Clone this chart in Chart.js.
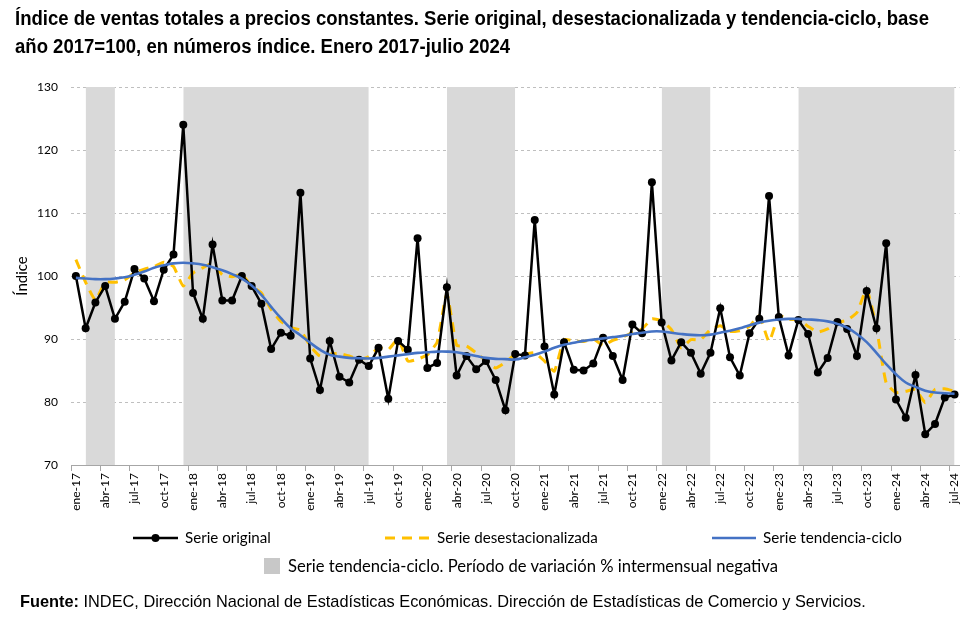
<!DOCTYPE html>
<html>
<head>
<meta charset="utf-8">
<script src="https://cdn.jsdelivr.net/npm/chart.js@4.4.1/dist/chart.umd.min.js"></script>
<style>
  html, body { margin:0; padding:0; background:#fff; }
  body { width:971px; height:624px; position:relative; overflow:hidden; font-family:"Liberation Sans", Arial, sans-serif; }
  .tl { position:absolute; left:15px; font-family:"Liberation Sans", Arial, sans-serif; font-weight:bold; font-size:20px; line-height:24px; color:#000; white-space:nowrap; transform-origin:0 50%; }
  #wrap { position:absolute; left:0; top:0; width:971px; height:528px; }
  .lg { position:absolute; font-family:Lato, "Open Sans", sans-serif; font-size:15px; color:#000; white-space:nowrap; line-height:18px; height:18px; }
  #footer { position:absolute; left:20px; top:591px; font-size:16px; line-height:20px; color:#000; white-space:nowrap; }
  svg.mk { position:absolute; left:0; top:0; }
</style>
</head>
<body>
<div id="wrap"><canvas id="c" width="971" height="528"></canvas></div>
<div class="tl" id="t1" style="top:6px;">Índice de ventas totales a precios constantes. Serie original, desestacionalizada y tendencia-ciclo, base</div>
<div class="tl" id="t2" style="top:34px;">año 2017=100, en números índice. Enero 2017-julio 2024</div>

<svg class="mk" width="971" height="624">
  <line x1="133" y1="538" x2="178" y2="538" stroke="#000" stroke-width="2.5"/>
  <circle cx="155.5" cy="538" r="4" fill="#000"/>
  <line x1="385" y1="538" x2="430" y2="538" stroke="#FFC000" stroke-width="3" stroke-dasharray="10,7"/>
  <line x1="712" y1="538" x2="756" y2="538" stroke="#4472C4" stroke-width="2.5"/>
  <rect x="264" y="558" width="16" height="16" fill="#C8C8C8"/>
</svg>
<div class="lg" id="l1" style="left:185px; top:528px;">Serie original</div>
<div class="lg" id="l2" style="left:437px; top:528px;">Serie desestacionalizada</div>
<div class="lg" id="l3" style="left:763px; top:528px;">Serie tendencia-ciclo</div>
<div class="lg" id="l4" style="left:288px; top:557px;">Serie tendencia-ciclo. Período de variación % intermensual negativa</div>
<div id="footer"><b>Fuente:</b> INDEC, Dirección Nacional de Estadísticas Económicas. Dirección de Estadísticas de Comercio y Servicios.</div>

<script>
// ---- Data ----
const monthNames = ['ene','feb','mar','abr','may','jun','jul','ago','sep','oct','nov','dic'];
const years = ['17','18','19','20','21','22','23','24'];
const lastMonthIndex2024 = 6; // julio 2024

const serieOriginal = [
  100.0, 91.7, 95.8, 98.4, 93.2, 95.9, 101.1, 99.6, 96.0, 101.0, 103.4, 124.0,
  97.3, 93.2, 105.0, 96.1, 96.1, 100.0, 98.4, 95.6, 88.4, 91.0, 90.5, 113.2,
  86.9, 81.9, 89.7, 84.0, 83.1, 86.7, 85.7, 88.6, 80.5, 89.7, 88.3, 106.0,
  85.4, 86.2, 98.2, 84.2, 87.3, 85.2, 86.5, 83.5, 78.7, 87.6, 87.4, 108.9,
  88.8, 81.2, 89.5, 85.1, 85.0, 86.1, 90.2, 87.3, 83.5, 92.3, 90.9, 114.9,
  92.6, 86.6, 89.5, 87.8, 84.5, 87.8, 94.9, 87.1, 84.2, 90.9, 93.2, 112.7,
  93.5, 87.4, 93.0, 90.8, 84.7, 87.0, 92.7, 91.6, 87.3, 97.6, 91.7, 105.2,
  80.4, 77.5, 84.3, 74.9, 76.5, 80.7, 81.2
];

const serieDesestacionalizada = [
  102.6, 99.0, 96.2, 99.0, 99.0, 99.4, 100.5, 101.1, 101.5, 102.2, 101.5, 98.4,
  100.5, 101.3, 102.0, 100.2, 99.9, 100.2, 98.4, 97.3, 94.7, 92.8, 91.8, 91.4,
  88.9, 87.3, 87.6, 87.7, 87.3, 86.7, 87.2, 88.6, 88.3, 90.0, 86.5, 86.8,
  87.5, 89.5, 97.2, 89.0, 88.9, 87.8, 86.5, 85.4, 86.3, 87.5, 87.6, 87.8,
  86.5, 84.9, 89.9, 89.7, 89.6, 90.0, 89.0, 89.8, 90.3, 91.0, 91.6, 93.2,
  92.9, 91.5, 88.6, 89.9, 89.9, 91.5, 92.1, 91.2, 91.3, 92.0, 93.7, 89.6,
  93.7, 93.1, 93.1, 92.0, 91.1, 91.6, 92.6, 93.0, 94.2, 97.9, 91.8, 83.0,
  81.5, 81.7, 82.0, 79.9, 82.0, 82.1, 81.7
];

const serieTendencia = [
  99.7, 99.6, 99.5, 99.5, 99.6, 99.8, 100.2, 100.7, 101.3, 101.7, 102.0, 102.1,
  102.0, 101.8, 101.4, 100.9, 100.3, 99.6, 98.5, 97.0, 95.1, 93.3, 91.7, 90.6,
  89.4, 88.3, 87.5, 87.2, 87.0, 86.95, 86.9, 87.0, 87.2, 87.4, 87.6, 87.8,
  87.9, 88.0, 88.0, 87.9, 87.6, 87.3, 87.0, 86.85, 86.8, 86.75, 87.1, 87.5,
  88.0, 88.6, 89.1, 89.4, 89.7, 89.9, 90.1, 90.3, 90.5, 90.8, 91.0, 91.2,
  91.2, 91.0, 90.8, 90.65, 90.6, 90.7, 91.0, 91.3, 91.7, 92.2, 92.6, 92.9,
  93.1, 93.2, 93.2, 93.1, 93.0, 92.8, 92.4, 91.8, 90.8, 89.5, 87.8, 86.0,
  84.4, 83.1, 82.4, 81.8, 81.5, 81.4, 81.3
];

// Periods of negative monthly variation of the trend-cycle (shaded)
const bandStarts = ['feb-17', 'dic-17', 'mar-20', 'ene-22', 'mar-23'];
const bandEnds   = ['may-17', 'jul-19', 'oct-20', 'jun-22', 'jul-24'];

const yTicks = [70, 80, 90, 100, 110, 120, 130];

// ---- Build categories ----
const categories = [];
years.forEach((y) => {
  monthNames.forEach((m, mi) => {
    if (y === '24' && mi > lastMonthIndex2024) return;
    categories.push(m + '-' + y);
  });
});

const yMin = yTicks[0], yMax = yTicks[yTicks.length - 1];
const bandData = categories.map(() => null);
bandStarts.forEach((s, k) => {
  const a = categories.indexOf(s), b = categories.indexOf(bandEnds[k]);
  for (let i = a; i <= b; i++) bandData[i] = yMax;
});

// ---- Fit HTML text widths to the reference layout ----
function fitScale(id, target) {
  const el = document.getElementById(id);
  const w = el.getBoundingClientRect().width;
  el.style.transform = 'scaleX(' + (target / w) + ')';
}
function fitFont(id, target) {
  const el = document.getElementById(id);
  const w = el.getBoundingClientRect().width;
  const fs = parseFloat(getComputedStyle(el).fontSize);
  el.style.fontSize = (fs * target / w) + 'px';
}
fitScale('t1', 914);
const t1s = document.getElementById('t1').style.transform;
document.getElementById('t2').style.transform = t1s;
fitFont('l1', 86);
fitFont('l2', 161);
fitFont('l3', 139);
fitFont('l4', 490);
fitFont('footer', 846);

const ctx = document.getElementById('c').getContext('2d');
new Chart(ctx, {
  type: 'line',
  data: {
    labels: categories,
    datasets: [
      {
        label: 'Serie tendencia-ciclo',
        data: serieTendencia,
        borderColor: '#4472C4',
        borderWidth: 2.6,
        pointRadius: 0,
        tension: 0.4,
        fill: false,
        order: 1
      },
      {
        label: 'Serie original',
        data: serieOriginal,
        borderColor: '#000000',
        backgroundColor: '#000000',
        borderWidth: 2.5,
        pointRadius: 4,
        pointBorderWidth: 0,
        pointBackgroundColor: '#000000',
        tension: 0,
        fill: false,
        order: 2
      },
      {
        label: 'Serie desestacionalizada',
        data: serieDesestacionalizada,
        borderColor: '#FFC000',
        borderWidth: 3,
        borderDash: [10, 7],
        pointRadius: 0,
        tension: 0.15,
        fill: false,
        order: 3
      },
      {
        label: 'Serie tendencia-ciclo. Período de variación % intermensual negativa',
        data: bandData,
        borderWidth: 0,
        borderColor: 'rgba(0,0,0,0)',
        backgroundColor: '#D9D9D9',
        pointRadius: 0,
        spanGaps: false,
        fill: 'start',
        order: 4
      }
    ]
  },
  options: {
    responsive: false,
    animation: false,
    events: [],
    layout: { padding: { top: 87, right: 10, bottom: 0, left: 0 } },
    plugins: {
      legend: { display: false },
      tooltip: { enabled: false },
      title: { display: false }
    },
    scales: {
      x: {
        type: 'category',
        offset: true,
        grid: {
          display: true,
          offset: true,
          drawOnChartArea: false,
          drawTicks: true,
          tickLength: 6,
          tickColor: (c) => (c.index % 3 === 0 && c.index < categories.length) ? '#A6A6A6' : 'rgba(0,0,0,0)'
        },
        border: { display: true, color: '#A6A6A6', width: 1 },
        ticks: {
          autoSkip: false,
          minRotation: 90,
          maxRotation: 90,
          padding: 2,
          color: '#000',
          font: { family: 'Lato', size: 12 },
          callback: function(v, i) { return i % 3 === 0 ? categories[i] : ''; }
        },
        afterFit: (s) => { s.height = 63; }
      },
      y: {
        min: yMin,
        max: yMax,
        afterBuildTicks: (s) => { s.ticks = yTicks.map(v => ({ value: v })); },
        grid: {
          color: (c) => c.tick && c.tick.value === yMin ? 'rgba(0,0,0,0)' : '#BFBFBF',
          lineWidth: 1,
          drawTicks: false
        },
        border: { display: false, dash: [3, 3] },
        ticks: {
          padding: 13,
          color: '#000',
          font: { family: 'Lato', size: 12 }
        },
        title: {
          display: true,
          text: 'Índice',
          color: '#000',
          font: { family: 'Lato', size: 15 },
          padding: { top: 13, bottom: 0 }
        },
        afterFit: (s) => { s.width = 71; }
      }
    }
  }
});
</script>
</body>
</html>
